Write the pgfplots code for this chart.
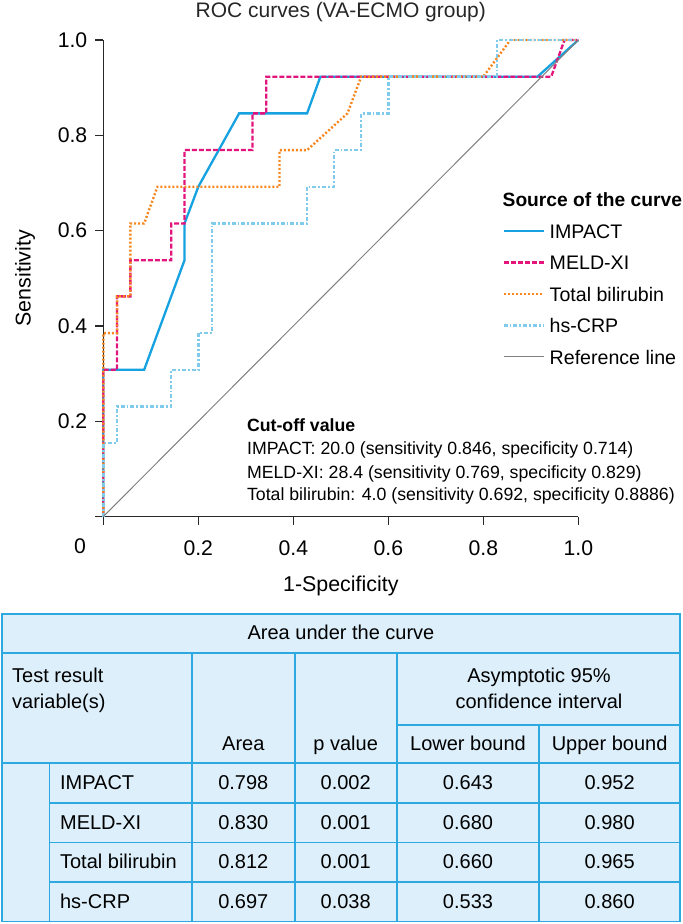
\documentclass[border=0pt]{standalone}
\usepackage{fontspec}
\setmainfont{Liberation Sans}
\usepackage{pgfplots}
\pgfplotsset{compat=1.18}
\definecolor{cImp}{RGB}{22,162,224}
\definecolor{cMeld}{RGB}{228,20,125}
\definecolor{cBil}{RGB}{246,134,30}
\definecolor{cCrp}{RGB}{128,202,236}
\definecolor{cRef}{RGB}{128,128,128}
\definecolor{tabfill}{RGB}{220,239,250}
\definecolor{tabline}{RGB}{45,168,224}
\definecolor{axcol}{RGB}{40,40,40}
\newcommand{\fs}[2]{\fontsize{#1}{#2}\selectfont}
\begin{document}
\begin{tikzpicture}
\begin{axis}[
  at={(51.65pt,203.7pt)}, anchor=south west,
  scale only axis, width=237.5pt, height=238.3pt,
  xmin=0, xmax=1, ymin=0, ymax=1,
  axis x line*=bottom, axis y line*=left,
  axis line style={axcol, line width=0.6pt},
  tick align=outside, major tick length=4pt,
  tick style={axcol, line width=0.6pt},
  xtick={0,0.2,0.4,0.6,0.8,1}, ytick={0,0.2,0.4,0.6,0.8,1},
  xticklabels={,0.2,0.4,0.6,0.8,1.0}, yticklabels={,0.2,0.4,0.6,0.8,1.0},
  /pgf/number format/assume math mode=true,
  tick label style={font=\fs{10.6}{12}, text=black},
  xticklabel style={yshift=-4.3pt},
  yticklabel style={xshift=-0.5pt},
  every axis title shift=0pt,
  title={ROC curves (VA-ECMO group)},
  title style={at={(rel axis cs:0.5,1)}, anchor=center, yshift=14pt, font=\fs{10.5}{12}, text=black!85},
  xlabel={1-Specificity}, ylabel={Sensitivity},
  every axis x label/.style={at={(rel axis cs:0.5,0)}, anchor=center, yshift=-34.6pt, font=\fs{10.7}{12}},
  every axis y label/.style={at={(rel axis cs:0,0.5)}, anchor=center, xshift=-39.15pt, rotate=90, font=\fs{10.7}{12}},
  legend style={at={(rel axis cs:0.840,0.615)}, anchor=north west, draw=none, fill=none,
     inner sep=0pt, outer sep=0pt, row sep=8.35pt, column sep=2.5pt, font=\fs{9.8}{11},
     nodes={inner sep=0pt, text height=7.4pt, text depth=0pt}},
  legend cell align=left,
  legend image code/.code={\draw[#1] (0pt,0pt) -- (20pt,0pt);},
  clip=false,
]
\addplot[cImp, line width=1.15pt] coordinates {
 (0,0) (0,0.308) (0.086,0.308) (0.171,0.538) (0.171,0.615) (0.2,0.692) (0.286,0.846)
 (0.429,0.846) (0.457,0.923) (0.914,0.923) (1,1)};
\addlegendentry{IMPACT}
\addplot[cMeld, line width=1.15pt, dash pattern=on 2.5pt off 1pt] coordinates {
 (0,0) (0,0.308) (0.029,0.308) (0.029,0.462) (0.057,0.462) (0.057,0.538) (0.143,0.538)
 (0.143,0.615) (0.171,0.615) (0.171,0.769) (0.314,0.769) (0.314,0.846) (0.343,0.846)
 (0.343,0.923) (0.943,0.923) (0.971,1) (1,1)};
\addlegendentry{MELD-XI}
\addplot[cBil, line width=1.2pt, dash pattern=on 1pt off 1pt] coordinates {
 (0,0) (0,0.385) (0.029,0.385) (0.029,0.462) (0.057,0.462) (0.057,0.615) (0.086,0.615)
 (0.114,0.692) (0.371,0.692) (0.371,0.769) (0.429,0.769) (0.514,0.846) (0.543,0.923)
 (0.8,0.923) (0.857,1) (1,1)};
\addlegendentry{Total bilirubin}
\addplot[cCrp, line width=1.2pt, dash pattern=on 2pt off 1pt on 0.9pt off 1pt] coordinates {
 (0,0) (0,0.154) (0.029,0.154) (0.029,0.231) (0.143,0.231) (0.143,0.308) (0.2,0.308)
 (0.2,0.385) (0.229,0.385) (0.229,0.615) (0.429,0.615) (0.429,0.692) (0.486,0.692)
 (0.486,0.769) (0.543,0.769) (0.543,0.846) (0.6,0.846) (0.6,0.923) (0.829,0.923)
 (0.829,1) (1,1)};
\addlegendentry{hs-CRP}
\addplot[cRef, line width=0.5pt] coordinates {(0,0) (1,1)};
\addlegendentry{Reference line}
\end{axis}
\begin{scope}[x=0.5pt, y=-0.5pt, yshift=462pt]
\node[anchor=center, font=\fs{10.6}{12}] at (80,546.7) {0};
\node[anchor=base west, inner sep=0pt, font=\bfseries\fs{9.6}{11}] at (502.3,206.7) {Source of the curve};
\node[anchor=base west, inner sep=0pt, font=\bfseries\fs{8.85}{10}] at (246.7,431.7) {Cut-off value};
\node[anchor=base west, inner sep=0pt, font=\fs{8.85}{10}] at (246.7,455) {IMPACT: 20.0 (sensitivity 0.846, specificity 0.714)};
\node[anchor=base west, inner sep=0pt, font=\fs{8.85}{10}] at (246.7,478.3) {MELD-XI: 28.4 (sensitivity 0.769, specificity 0.829)};
\node[anchor=base west, inner sep=0pt, font=\fs{8.85}{10}] at (246.7,500.7) {Total bilirubin: 4.0 (sensitivity 0.692, specificity 0.8886)};
% table
\fill[tabfill] (2,614) rectangle (680,921.7);
\begin{scope}[tabline, line width=0.8pt]
\draw (2,614) rectangle (680,921.7);
\draw (2,653.3) -- (680,653.3);
\draw (396.7,725) -- (680,725);
\draw (2,763.3) -- (680,763.3);
\draw (49.3,803.3) -- (680,803.3);
\draw (49.3,842.7) -- (680,842.7);
\draw (49.3,882.3) -- (680,882.3);
\draw (191.8,653.3) -- (191.8,921.7);
\draw (294.7,653.3) -- (294.7,921.7);
\draw (396.7,653.3) -- (396.7,921.7);
\draw (539.2,725) -- (539.2,921.7);
\draw (49.3,763.3) -- (49.3,921.7);
\end{scope}
\begin{scope}[every node/.style={inner sep=0pt, font=\fs{10}{12}}]
\node[anchor=base] at (341,640) {Area under the curve};
\node[anchor=base west] at (11.8,682.3) {Test result};
\node[anchor=base west] at (11.8,708.3) {variable(s)};
\node[anchor=base] at (243.3,750.7) {Area};
\node[anchor=base] at (345.7,750.7) {p value};
\node[anchor=base] at (539,682.7) {Asymptotic 95\%};
\node[anchor=base] at (539,708.3) {confidence interval};
\node[anchor=base] at (468,750.7) {Lower bound};
\node[anchor=base] at (609.6,750.7) {Upper bound};
\node[anchor=base west] at (59.7,790) {IMPACT};
\node[anchor=base west] at (59.7,829.3) {MELD-XI};
\node[anchor=base west] at (59.7,868.7) {Total bilirubin};
\node[anchor=base west] at (59.7,908) {hs-CRP};
\node[anchor=base] at (243.3,790) {0.798};
\node[anchor=base] at (345.7,790) {0.002};
\node[anchor=base] at (468,790) {0.643};
\node[anchor=base] at (609.6,790) {0.952};
\node[anchor=base] at (243.3,829.3) {0.830};
\node[anchor=base] at (345.7,829.3) {0.001};
\node[anchor=base] at (468,829.3) {0.680};
\node[anchor=base] at (609.6,829.3) {0.980};
\node[anchor=base] at (243.3,868.7) {0.812};
\node[anchor=base] at (345.7,868.7) {0.001};
\node[anchor=base] at (468,868.7) {0.660};
\node[anchor=base] at (609.6,868.7) {0.965};
\node[anchor=base] at (243.3,908) {0.697};
\node[anchor=base] at (345.7,908) {0.038};
\node[anchor=base] at (468,908) {0.533};
\node[anchor=base] at (609.6,908) {0.860};
\end{scope}
\end{scope}
\pgfresetboundingbox
\path[use as bounding box] (0,0) rectangle (341pt,462pt);
\end{tikzpicture}
\end{document}
